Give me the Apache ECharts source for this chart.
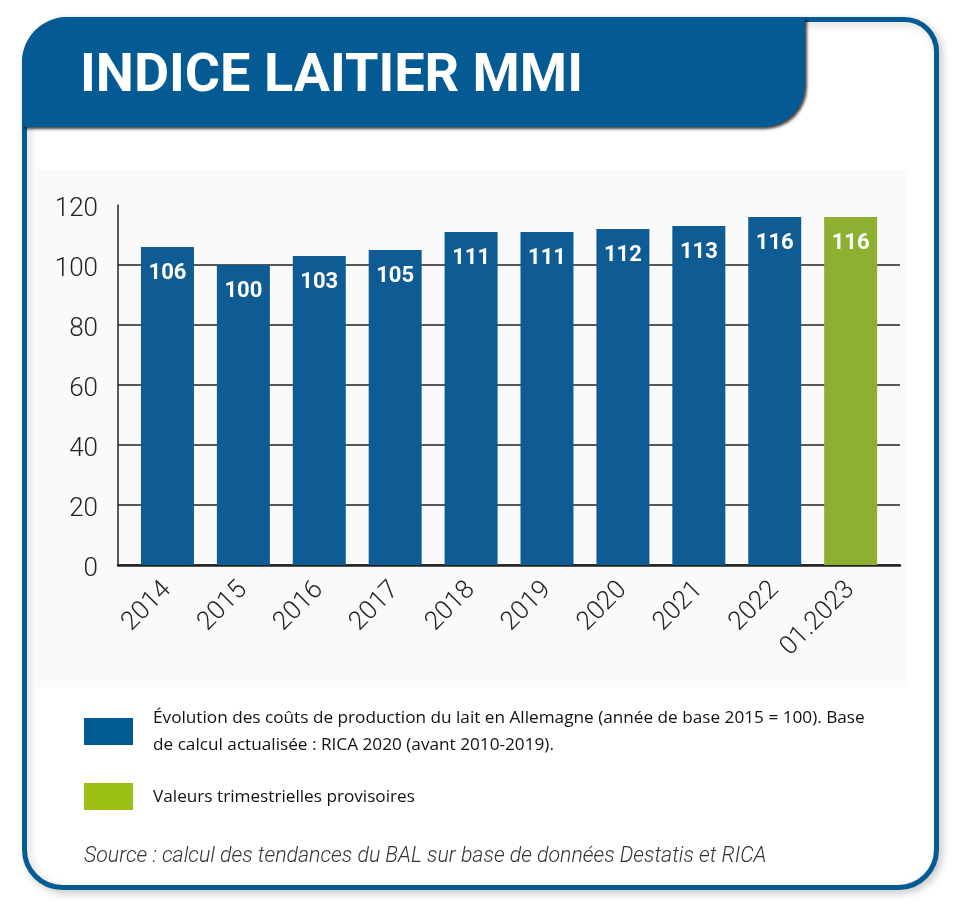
<!DOCTYPE html>
<html>
<head>
<meta charset="utf-8">
<script src="https://cdn.jsdelivr.net/npm/echarts@6/dist/echarts.min.js"></script>
<style>
html,body{margin:0;padding:0;background:#fff;}
#chart{width:960px;height:919px;}
</style>
</head>
<body>
<div id="chart"></div>
<script>
// ---- data ----
const categories = ['2014','2015','2016','2017','2018','2019','2020','2021','2022','01.2023'];
const indexValues = [106, 100, 103, 105, 111, 111, 112, 113, 116, 116];
const provisional = [false, false, false, false, false, false, false, false, false, true];
const yTicks = [0, 20, 40, 60, 80, 100, 120];
const titleText = 'INDICE LAITIER MMI';
const legendMain = ['Évolution des coûts de production du lait en Allemagne (année de base 2015 = 100). Base',
                    'de calcul actualisée : RICA 2020 (avant 2010-2019).'];
const legendProvisional = 'Valeurs trimestrielles provisoires';
const sourceText = 'Source : calcul des tendances du BAL sur base de données Destatis et RICA';

// ---- styles ----
const BLUE = '#0f5c94';
const GREEN = '#8db030';
const FRAME = '#045b94';
const AXIS = '#222';

const chart = echarts.init(document.getElementById('chart'), null, {renderer: 'canvas'});

const yMin = yTicks[0], yMax = yTicks[yTicks.length - 1], yStep = yTicks[1] - yTicks[0];

const option = {
  animation: false,
  backgroundColor: '#ffffff',
  grid: [
    {left: 118, right: 60, top: 205, bottom: 354},
    {left: 129.5, right: 71.4, top: 205, bottom: 354}
  ],
  xAxis: [
    {gridIndex: 0, type: 'value', min: 0, max: 1,
     axisLine: {show: true, lineStyle: {color: AXIS, width: 2.5}},
     axisTick: {show: false}, axisLabel: {show: false}, splitLine: {show: false}},
    {gridIndex: 1, type: 'category', data: categories, boundaryGap: true,
     axisLine: {show: false}, axisTick: {show: false},
     axisLabel: {rotate: 45, margin: 21, color: AXIS, fontFamily: 'Roboto', fontWeight: 300, fontSize: 26, interval: 0}}
  ],
  yAxis: [
    {gridIndex: 0, type: 'value', min: yMin, max: yMax, interval: yStep,
     axisLine: {show: true, lineStyle: {color: AXIS, width: 1.5}},
     axisTick: {show: false},
     axisLabel: {margin: 20, formatter: v => '{t|' + v + '}',
                 rich: {t: {color: AXIS, fontFamily: 'Roboto', fontWeight: 300, fontSize: 26, padding: [8, 0, 0, 0]}}},
     splitLine: {show: true, showMaxLine: false, lineStyle: {color: AXIS, width: 1.5}}},
    {gridIndex: 1, type: 'value', min: yMin, max: yMax, show: false}
  ],
  series: [{
    type: 'bar',
    xAxisIndex: 1, yAxisIndex: 1,
    barWidth: 53,
    data: indexValues.map((v, i) => ({value: v, itemStyle: {color: provisional[i] ? GREEN : BLUE}})),
    label: {show: true, position: 'insideTop', distance: 15, color: '#fff',
            fontFamily: 'Roboto', fontWeight: 'bold', fontSize: 22}
  }],
  graphic: [
    // outer frame
    {type: 'rect', z: -10, silent: true,
     shape: {x: 24.5, y: 19.5, width: 912, height: 868, r: [45, 32, 38, 38]},
     style: {fill: '#fff', stroke: FRAME, lineWidth: 5, shadowBlur: 8, shadowColor: 'rgba(0,0,0,0.18)', shadowOffsetX: 3, shadowOffsetY: 3}},
    // chart background
    {type: 'rect', z: -9, silent: true,
     shape: {x: 35, y: 170, width: 872, height: 517},
     style: {fill: '#fafafa'}},
    // header band
    {type: 'rect', z: -8, silent: true,
     shape: {x: 22, y: 17, width: 783, height: 110, r: [45, 0, 42, 0]},
     style: {fill: FRAME, shadowBlur: 3, shadowOffsetX: 2, shadowOffsetY: 2, shadowColor: 'rgba(0,0,0,0.75)'}},
    {type: 'text', z: 10, silent: true, x: 80, y: 77,
     style: {text: titleText, fill: '#fff', font: 'bold 54px Roboto', verticalAlign: 'middle'}},
    // legend
    {type: 'rect', silent: true, shape: {x: 84, y: 718, width: 49, height: 27}, style: {fill: '#025a92'}},
    {type: 'rect', silent: true, shape: {x: 84, y: 783, width: 49, height: 27}, style: {fill: '#9abe13'}},
    {type: 'text', silent: true, x: 153, y: 718,
     style: {text: legendMain[0], fill: '#111', font: '17.2px "Open Sans"', verticalAlign: 'middle'}},
    {type: 'text', silent: true, x: 153, y: 745,
     style: {text: legendMain[1], fill: '#111', font: '17.2px "Open Sans"', verticalAlign: 'middle'}},
    {type: 'text', silent: true, x: 153, y: 797,
     style: {text: legendProvisional, fill: '#111', font: '17.2px "Open Sans"', verticalAlign: 'middle'}},
    {type: 'text', silent: true, x: 84, y: 857,
     style: {text: sourceText, fill: '#333', font: 'italic 300 21.3px Roboto', verticalAlign: 'middle'}}
  ]
};
chart.setOption(option);
</script>
</body>
</html>
